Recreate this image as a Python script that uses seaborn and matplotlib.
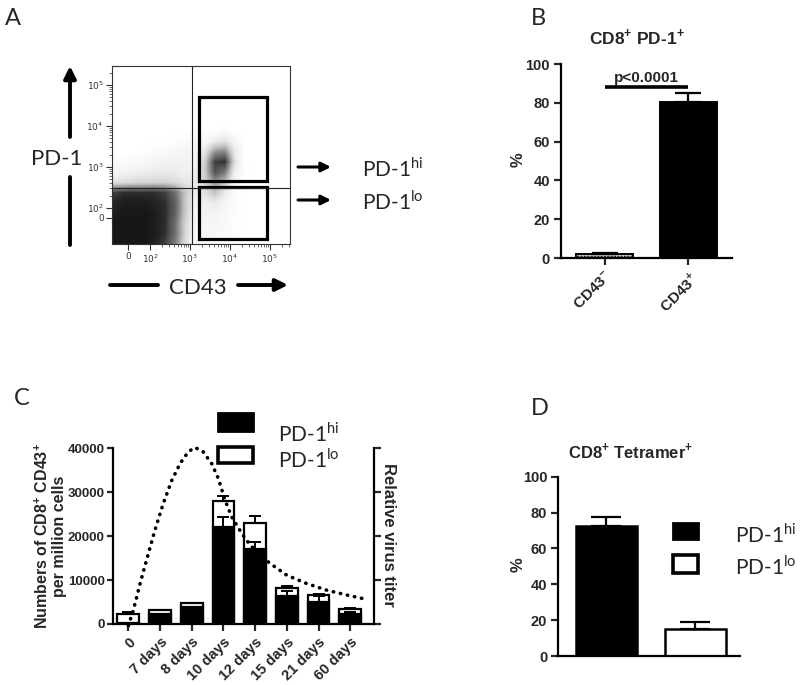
import numpy as np
import matplotlib
matplotlib.use('Agg')
import matplotlib.pyplot as plt
import seaborn as sns
from matplotlib.patches import Rectangle, FancyArrowPatch
from matplotlib.lines import Line2D

# ---- Panel A: flow dot plot, read as darkness (0..1) per 0.25 display-unit cell ----
# columns: x = 1.0 .. 5.5 (18 cells), rows: y = 5.5 (top) .. 1.0 (bottom)
flow_density = [
    [0] * 18,
    [0] * 18,
    [0] * 18,
    [0] * 18,
    [0] * 18,
    [0] * 18,
    [0, 0, 0, 0, 0, 0, 0, 0, 0, 0, 0, 0.03, 0, 0, 0, 0, 0, 0],
    [0, 0, 0, 0, 0, 0, 0.02, 0.04, 0.05, 0.06, 0.15, 0.2, 0.08, 0, 0, 0, 0, 0],
    [0, 0, 0, 0.02, 0.04, 0.05, 0.07, 0.08, 0.08, 0.2, 0.5, 0.55, 0.15, 0, 0, 0, 0, 0],
    [0.03, 0.04, 0.05, 0.06, 0.08, 0.1, 0.11, 0.1, 0.1, 0.3, 0.8, 0.85, 0.2, 0.01, 0, 0, 0, 0],
    [0.08, 0.1, 0.12, 0.13, 0.15, 0.16, 0.15, 0.12, 0.12, 0.32, 0.75, 0.6, 0.12, 0.01, 0, 0, 0, 0],
    [0.2, 0.22, 0.25, 0.26, 0.27, 0.27, 0.24, 0.18, 0.15, 0.28, 0.5, 0.35, 0.06, 0, 0, 0, 0, 0],
    [0.8, 0.85, 0.85, 0.85, 0.85, 0.8, 0.65, 0.35, 0.15, 0.2, 0.35, 0.15, 0.02, 0, 0, 0, 0, 0],
    [0.88, 0.9, 0.9, 0.9, 0.88, 0.85, 0.7, 0.33, 0.1, 0.12, 0.15, 0.08, 0.02, 0, 0, 0, 0, 0],
    [0.9, 0.92, 0.92, 0.92, 0.9, 0.85, 0.7, 0.33, 0.08, 0.1, 0.1, 0.06, 0.02, 0, 0, 0, 0, 0],
    [0.92, 0.92, 0.92, 0.92, 0.9, 0.85, 0.65, 0.28, 0.06, 0.08, 0.08, 0.05, 0.02, 0, 0, 0, 0, 0],
    [0.92, 0.92, 0.92, 0.92, 0.9, 0.85, 0.65, 0.28, 0.05, 0.07, 0.05, 0.04, 0.02, 0, 0, 0, 0, 0],
    [0.92, 0.92, 0.92, 0.92, 0.88, 0.8, 0.6, 0.24, 0.04, 0.05, 0.04, 0.03, 0.02, 0, 0, 0, 0, 0],
]
flow_ticks = [1.45, 2, 3, 4, 5]
flow_xlabels = ['0', '$10^2$', '$10^3$', '$10^4$', '$10^5$']
flow_yticks = [1.76, 2, 3, 4, 5]
flow_ylabels = ['0', '$10^2$', '$10^3$', '$10^4$', '$10^5$']
quad_x = 3.05
quad_y = 2.48
gate_hi = [3.22, 2.66, 4.92, 4.71]   # x0, y0, x1, y1
gate_lo = [3.22, 1.24, 4.92, 2.52]

# ---- Panel B ----
b_groups = ['CD43$^{\\mathregular{-}}$', 'CD43$^{\\mathregular{+}}$']
b_values = [2.3, 80.5]
b_err = [0.3, 4.5]
b_sig_y = 88

# ---- Panel C ----
c_days = ['0', '7 days', '8 days', '10 days', '12 days', '15 days', '21 days', '60 days']
c_total = [2200, 3200, 4700, 28000, 23100, 8300, 6700, 3400]
c_total_err = [450, 100, 100, 1100, 1400, 400, 200, 150]
c_hi = [250, 2200, 3800, 22000, 17000, 6400, 5000, 2350]
c_hi_err = [0, 0, 0, 2400, 1600, 1200, 1300, 400]
virus_x = [0, 0.16, 0.37, 0.63, 0.84, 1.10, 1.37, 1.63, 1.89, 2.10, 2.36, 2.63,
           2.84, 3.05, 3.26, 3.58, 3.84, 4.16, 4.47, 5.0, 5.63, 6.26, 6.89, 7.52]
virus_y = [-400, 3200, 9200, 16000, 21400, 27400, 32700, 36500, 39200, 40200, 39200, 36500,
           33100, 28200, 24400, 20600, 18000, 15700, 13800, 11100, 9200, 7700, 6600, 5600]

# ---- Panel D ----
d_groups = ['PD-1hi', 'PD-1lo']
d_values = [72.5, 15.2]
d_err = [5.2, 3.8]

sns.set_theme(style='ticks')
plt.rcParams['font.family'] = ['Liberation Sans', 'DejaVu Sans']
plt.rcParams['axes.linewidth'] = 1.6
plt.rcParams['axes.edgecolor'] = 'black'
CAL = ['Lato', 'DejaVu Sans']

W, H = 800, 685
fig = plt.figure(figsize=(W / 100, H / 100), dpi=100)


def fx(px):
    return px / W


def fy(py):
    return 1 - py / H


def box(l, t, r, b):
    return [fx(l), fy(b), fx(r) - fx(l), fy(t) - fy(b)]


def arrow(x0, y0, x1, y1, lw=2.8, ms=16):
    fig.add_artist(FancyArrowPatch((fx(x0), fy(y0)), (fx(x1), fy(y1)), transform=fig.transFigure,
                                   arrowstyle='-|>', mutation_scale=ms, lw=lw, color='black',
                                   shrinkA=0, shrinkB=0))


def line(x0, y0, x1, y1, lw=2.8):
    fig.add_artist(Line2D([fx(x0), fx(x1)], [fy(y0), fy(y1)], transform=fig.transFigure,
                          lw=lw, color='black'))


# ================= A =================
axa = fig.add_axes(box(112, 66, 290, 244))
axa.imshow(np.array(flow_density), cmap='Greys', vmin=0, vmax=1, extent=(1.0, 5.5, 1.0, 5.5),
           origin='upper', aspect='auto', interpolation='bilinear')
axa.set_xlim(1.05, 5.5)
axa.set_ylim(1.12, 5.46)
axa.axvline(quad_x, color='#222222', lw=0.8)
axa.axhline(quad_y, color='#222222', lw=0.8)
for g in (gate_hi, gate_lo):
    axa.add_patch(Rectangle((g[0], g[1]), g[2] - g[0], g[3] - g[1], fill=False, lw=2.3, ec='black'))
for s in axa.spines.values():
    s.set_linewidth(0.8)
    s.set_color('#333333')
axa.set_xticks(flow_ticks)
axa.set_xticklabels(flow_xlabels, fontsize=6.5, color='#333333', family='DejaVu Sans')
axa.set_yticks(flow_yticks)
axa.set_yticklabels(flow_ylabels, fontsize=6.5, color='#333333', family='DejaVu Sans')
minor = [d + np.log10(k) for d in (2, 3, 4) for k in range(2, 10)] + [5 + np.log10(k) for k in (2, 3)]
axa.set_xticks(minor, minor=True)
axa.set_yticks([m for m in minor if m < 5.46], minor=True)
axa.tick_params(which='major', direction='out', length=4, width=0.8, color='#333333', pad=2)
axa.tick_params(which='minor', direction='out', length=2, width=0.5, color='#333333')

fig.text(fx(5), fy(8), 'A', fontsize=17, family=CAL, ha='left', va='top')
fig.text(fx(57), fy(159), 'PD-1', fontsize=16, family=CAL, ha='center', va='center')
arrow(70, 137, 70, 66, lw=2.8, ms=18)
line(70, 177, 70, 245)
fig.text(fx(198), fy(288), 'CD43', fontsize=16, family=CAL, ha='center', va='center')
line(110, 285, 158, 285)
arrow(238, 285, 288, 285, lw=2.8, ms=18)
arrow(298, 167, 331, 167, lw=2.2, ms=14)
arrow(298, 200, 331, 200, lw=2.2, ms=14)
fig.text(fx(362), fy(177), 'PD-1$^{\\mathregular{hi}}$', fontsize=15, family=CAL, ha='left', va='baseline')
fig.text(fx(362), fy(210), 'PD-1$^{\\mathregular{lo}}$', fontsize=15, family=CAL, ha='left', va='baseline')

# ================= B =================
axb = fig.add_axes(box(561, 64, 732, 258))
sns.barplot(x=b_groups, y=b_values, hue=b_groups, palette=['#cfcfcf', 'black'], saturation=1,
            width=0.68, edgecolor='black', linewidth=1.4, legend=False, ax=axb)
axb.patches[0].set_hatch('.....')
axb.errorbar(range(len(b_values)), b_values, yerr=[[0] * len(b_err), b_err], fmt='none',
             ecolor='black', elinewidth=1.6, capsize=9.5, capthick=1.6)
axb.plot([0, 1], [b_sig_y, b_sig_y], color='black', lw=2.6, solid_capstyle='butt')
axb.text(0.5, b_sig_y + 2.5, 'p<0.0001', ha='center', va='baseline', fontsize=11, fontweight='bold')
axb.set_xlim(-0.52, 1.52)
axb.set_ylim(0, 100)
axb.set_yticks(range(0, 101, 20))
axb.set_yticklabels([str(v) for v in range(0, 101, 20)], fontsize=10.5, fontweight='bold')
axb.set_xticks(range(len(b_groups)))
axb.set_xticklabels(b_groups, rotation=45, ha='right', rotation_mode='anchor',
                    fontsize=11, fontweight='bold')
axb.set_xlabel('')
axb.set_ylabel('')
axb.tick_params(direction='out', length=5, width=1.6, pad=3)
sns.despine(ax=axb)
fig.text(fx(637), fy(37), 'CD8$^{\\mathregular{+}}$ PD-1$^{\\mathregular{+}}$', ha='center', va='center',
         fontsize=12.5, fontweight='bold')
fig.text(fx(518), fy(160), '%', rotation=90, ha='center', va='center', fontsize=12, fontweight='bold')
fig.text(fx(531), fy(8), 'B', fontsize=17, family=CAL, ha='left', va='top')

# ================= C =================
axc = fig.add_axes(box(112.5, 448.3, 374, 624))
sns.barplot(x=c_days, y=c_total, color='white', saturation=1, width=0.69, edgecolor='black',
            linewidth=1.6, ax=axc)
sns.barplot(x=c_days, y=c_hi, color='black', saturation=1, width=0.69, edgecolor='black',
            linewidth=1.6, ax=axc)
n = len(c_days)
axc.errorbar(range(n), c_total, yerr=[[0] * n, c_total_err], fmt='none', ecolor='black',
             elinewidth=1.4, capsize=4.5, capthick=1.4)
axc.errorbar(range(n), c_hi, yerr=[[0] * n, c_hi_err], fmt='none', ecolor='black',
             elinewidth=1.4, capsize=4.5, capthick=1.4)
axc.set_xlim(-0.5, 7.75)
axc.set_ylim(0, 40000)
axc.set_yticks(range(0, 40001, 10000))
axc.set_yticklabels([str(v) for v in range(0, 40001, 10000)], fontsize=9.5, fontweight='bold')
axc.set_xticks(range(n))
axc.set_xticklabels(c_days, rotation=45, ha='right', rotation_mode='anchor', fontsize=10.5,
                    fontweight='bold')
axc.set_xlabel('')
axc.set_ylabel('')
axc.tick_params(axis='y', direction='out', length=4, width=1.6, pad=1.5)
axc.tick_params(axis='x', direction='out', length=5, width=1.6, pad=3)
sns.despine(ax=axc)

axr = axc.twinx()
axr.plot(virus_x, virus_y, color='black', lw=2.6, linestyle=(0, (0.1, 1.9)),
         dash_capstyle='round', clip_on=False)
axr.set_ylim(0, 40000)
axr.set_yticks(range(0, 40001, 10000))
axr.set_yticklabels([])
axr.tick_params(direction='out', length=5, width=1.6)
for s in ('top', 'left', 'bottom'):
    axr.spines[s].set_visible(False)
axr.spines['right'].set_linewidth(1.6)

fig.text(fx(50), fy(536), 'Numbers of CD8$^{\\mathregular{+}}$ CD43$^{\\mathregular{+}}$\nper million cells',
         rotation=90, ha='center', va='center', multialignment='center', fontsize=11.5,
         fontweight='bold', linespacing=1.1)
fig.text(fx(389), fy(535), 'Relative virus titer', rotation=270, ha='center', va='center',
         fontsize=12, fontweight='bold')
fig.text(fx(14), fy(388), 'C', fontsize=17, family=CAL, ha='left', va='top')

# legend C
fig.add_artist(Rectangle((fx(218), fy(431)), fx(35), 18 / H, transform=fig.transFigure,
                         fc='black', ec='black', lw=2))
fig.add_artist(Rectangle((fx(218), fy(463)), fx(35), 16 / H, transform=fig.transFigure,
                         fc='white', ec='black', lw=2.6))
fig.text(fx(278), fy(441.5), 'PD-1$^{\\mathregular{hi}}$', fontsize=15, family=CAL, ha='left', va='baseline')
fig.text(fx(278), fy(468), 'PD-1$^{\\mathregular{lo}}$', fontsize=15, family=CAL, ha='left', va='baseline')

# ================= D =================
axd = fig.add_axes(box(558.3, 476.7, 740, 656))
sns.barplot(x=d_groups, y=d_values, hue=d_groups, palette=['black', 'white'], saturation=1,
            width=0.68, edgecolor='black', linewidth=1.8, legend=False, ax=axd)
axd.errorbar(range(len(d_values)), d_values, yerr=[[0] * len(d_err), d_err], fmt='none',
             ecolor='black', elinewidth=1.6, capsize=11, capthick=1.6)
axd.set_xlim(-0.54, 1.5)
axd.set_ylim(0, 100)
axd.set_yticks(range(0, 101, 20))
axd.set_yticklabels([str(v) for v in range(0, 101, 20)], fontsize=10.5, fontweight='bold')
axd.set_xticks([])
axd.set_xlabel('')
axd.set_ylabel('')
axd.tick_params(direction='out', length=5, width=1.6, pad=3)
sns.despine(ax=axd)
fig.text(fx(631), fy(451), 'CD8$^{\\mathregular{+}}$ Tetramer$^{\\mathregular{+}}$', ha='center', va='center',
         fontsize=12, fontweight='bold')
fig.text(fx(518), fy(565), '%', rotation=90, ha='center', va='center', fontsize=12, fontweight='bold')
fig.text(fx(531), fy(398), 'D', fontsize=17, family=CAL, ha='left', va='top')

# legend D
fig.add_artist(Rectangle((fx(673), fy(539)), fx(25), 16 / H, transform=fig.transFigure,
                         fc='black', ec='black', lw=2))
fig.add_artist(Rectangle((fx(673), fy(573)), fx(25), 18 / H, transform=fig.transFigure,
                         fc='white', ec='black', lw=2.6))
fig.text(fx(735), fy(543), 'PD-1$^{\\mathregular{hi}}$', fontsize=15, family=CAL, ha='left', va='baseline')
fig.text(fx(735), fy(575), 'PD-1$^{\\mathregular{lo}}$', fontsize=15, family=CAL, ha='left', va='baseline')

fig.savefig('out.png', dpi=100, facecolor='white')
